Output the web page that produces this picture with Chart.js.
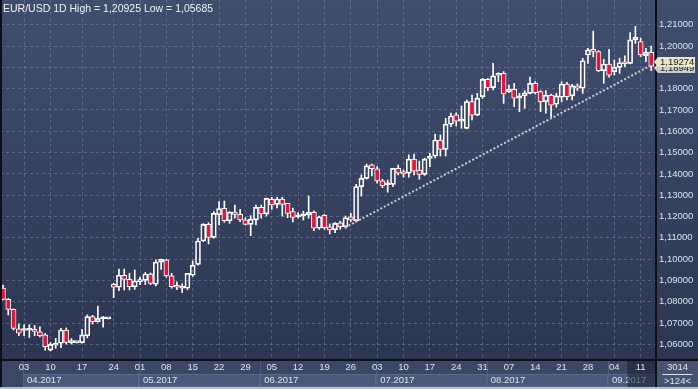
<!DOCTYPE html>
<html>
<head>
<meta charset="utf-8">
<script src="https://cdn.jsdelivr.net/npm/chart.js@4/dist/chart.umd.min.js"></script>
<style>
  html, body { margin: 0; padding: 0; background: #2f3a56; }
  #wrap { width: 698px; height: 389px; }
</style>
</head>
<body>
<div id="wrap"><canvas id="myChart" width="698" height="389"></canvas></div>
<script>
// daily EUR/USD candles, end of March to mid September 2017
const opens = [
  1.0864, 1.0811, 1.0764, 1.0673, 1.0665, 1.0666, 1.0671, 1.0659, 1.0644, 1.0573,
  1.0596, 1.0605, 1.0667, 1.0608, 1.0608, 1.0608, 1.0640, 1.0730, 1.0706, 1.0720,
  1.0720, 1.0882, 1.0868, 1.0924, 1.0905, 1.0870, 1.0894, 1.0900, 1.0930, 1.0882,
  1.0985, 1.0996, 1.0922, 1.0872, 1.0863, 1.0863, 1.0924, 1.0975, 1.1085, 1.1163,
  1.1102, 1.1209, 1.1238, 1.1180, 1.1221, 1.1210, 1.1184, 1.1163, 1.1184, 1.1243,
  1.1212, 1.1281, 1.1257, 1.1282, 1.1262, 1.1223, 1.1199, 1.1203, 1.1207, 1.1220,
  1.1145, 1.1206, 1.1152, 1.1137, 1.1170, 1.1152, 1.1199, 1.1180, 1.1340, 1.1379,
  1.1443, 1.1424, 1.1367, 1.1349, 1.1351, 1.1426, 1.1404, 1.1403, 1.1469, 1.1418,
  1.1398, 1.1473, 1.1484, 1.1559, 1.1515, 1.1633, 1.1677, 1.1648, 1.1614, 1.1739,
  1.1676, 1.1763, 1.1844, 1.1805, 1.1863, 1.1872, 1.1786, 1.1797, 1.1755, 1.1766,
  1.1778, 1.1825, 1.1786, 1.1739, 1.1770, 1.1727, 1.1760, 1.1822, 1.1766, 1.1813,
  1.1802, 1.1958, 1.1982, 1.1974, 1.1885, 1.1916, 1.1880, 1.1900, 1.1922, 1.1919,
  1.2029, 1.2021, 1.1955, 1.1971
];
const highs = [
  1.0878, 1.0815, 1.0766, 1.0695, 1.0692, 1.0692, 1.0689, 1.0682, 1.0652, 1.0608,
  1.0628, 1.0675, 1.0677, 1.0627, 1.0610, 1.0670, 1.0738, 1.0736, 1.0780, 1.0730,
  1.0721, 1.0886, 1.0953, 1.0953, 1.0933, 1.0949, 1.0915, 1.0937, 1.0935, 1.0996,
  1.1000, 1.0999, 1.0933, 1.0893, 1.0884, 1.0933, 1.0992, 1.1098, 1.1167, 1.1171,
  1.1223, 1.1270, 1.1273, 1.1223, 1.1254, 1.1234, 1.1194, 1.1204, 1.1254, 1.1254,
  1.1287, 1.1290, 1.1290, 1.1290, 1.1262, 1.1239, 1.1218, 1.1225, 1.1296, 1.1227,
  1.1202, 1.1210, 1.1165, 1.1171, 1.1178, 1.1202, 1.1215, 1.1351, 1.1395, 1.1446,
  1.1446, 1.1434, 1.1375, 1.1371, 1.1426, 1.1442, 1.1418, 1.1489, 1.1493, 1.1460,
  1.1474, 1.1497, 1.1587, 1.1583, 1.1661, 1.1685, 1.1687, 1.1719, 1.1747, 1.1770,
  1.1778, 1.1849, 1.1849, 1.1919, 1.1875, 1.1880, 1.1817, 1.1825, 1.1778, 1.1791,
  1.1854, 1.1833, 1.1791, 1.1791, 1.1775, 1.1778, 1.1833, 1.1830, 1.1821, 1.1822,
  1.1943, 1.1990, 1.2070, 1.1978, 1.1938, 1.1985, 1.1935, 1.1943, 1.1954, 1.2063,
  1.20925, 1.2037, 1.1990, 1.2000
];
const lows = [
  1.0808, 1.0738, 1.0667, 1.0640, 1.0640, 1.0632, 1.0640, 1.0635, 1.0573, 1.05685,
  1.0581, 1.0584, 1.0601, 1.0601, 1.0606, 1.0605, 1.0630, 1.0695, 1.0704, 1.0680,
  1.0719, 1.0819, 1.0852, 1.0855, 1.0855, 1.0858, 1.0880, 1.0880, 1.0880, 1.0874,
  1.0952, 1.0915, 1.0863, 1.0856, 1.0843, 1.0856, 1.0919, 1.0972, 1.1082, 1.1071,
  1.1098, 1.1160, 1.1173, 1.1168, 1.1192, 1.1176, 1.1160, 1.1110, 1.1160, 1.1192,
  1.1202, 1.1234, 1.1240, 1.1202, 1.1194, 1.1174, 1.1192, 1.1183, 1.1192, 1.1133,
  1.1140, 1.1140, 1.1118, 1.1124, 1.1140, 1.1145, 1.1176, 1.1175, 1.1296, 1.1375,
  1.1390, 1.1356, 1.1335, 1.1314, 1.1340, 1.1395, 1.1384, 1.1384, 1.1395, 1.1375,
  1.1393, 1.1434, 1.1475, 1.1484, 1.1484, 1.1622, 1.1625, 1.1614, 1.1611, 1.1653,
  1.1673, 1.1755, 1.1791, 1.1794, 1.1833, 1.1731, 1.1781, 1.1716, 1.1692, 1.1708,
  1.1775, 1.1775, 1.1692, 1.1685, 1.1666, 1.1713, 1.1739, 1.1747, 1.1747, 1.1791,
  1.1778, 1.1919, 1.1950, 1.1880, 1.1825, 1.1854, 1.1864, 1.1872, 1.1903, 1.1916,
  1.2013, 1.1950, 1.1927, 1.1885
];
const closes = [
  1.0811, 1.0764, 1.0675, 1.0652, 1.0670, 1.0670, 1.0661, 1.0640, 1.0589, 1.0600,
  1.0603, 1.0667, 1.0609, 1.0614, 1.0608, 1.0644, 1.0730, 1.0706, 1.0722, 1.0723,
  1.0720, 1.0868, 1.0924, 1.0905, 1.0870, 1.0897, 1.0903, 1.0930, 1.0886, 1.0985,
  1.0999, 1.0922, 1.0870, 1.0868, 1.0868, 1.0933, 1.0972, 1.1085, 1.1163, 1.1102,
  1.1215, 1.1237, 1.1180, 1.1220, 1.1210, 1.1184, 1.1163, 1.1188, 1.1243, 1.1212,
  1.1285, 1.1254, 1.1282, 1.1257, 1.1215, 1.1196, 1.1205, 1.1208, 1.1220, 1.1145,
  1.1199, 1.1147, 1.1137, 1.1168, 1.1152, 1.1194, 1.1184, 1.1340, 1.1379, 1.1438,
  1.1424, 1.1367, 1.1345, 1.1351, 1.1426, 1.1403, 1.1400, 1.1469, 1.1413, 1.1398,
  1.1469, 1.1484, 1.1559, 1.1515, 1.1633, 1.1672, 1.1648, 1.1651, 1.1739, 1.1676,
  1.1755, 1.1844, 1.1805, 1.1860, 1.1872, 1.1775, 1.1797, 1.1755, 1.1766, 1.1781,
  1.1825, 1.1781, 1.1739, 1.1770, 1.1723, 1.1766, 1.1822, 1.1762, 1.1813, 1.1802,
  1.1931, 1.1982, 1.1975, 1.1885, 1.1916, 1.1864, 1.1900, 1.1922, 1.1917, 1.2029,
  1.2041, 1.1958, 1.1971, 1.1905
];

// bar index of each weekly tick and the day shown there
const weekTicks = [4, 9, 15, 21, 26, 31, 36, 41, 46, 51, 56, 61, 66, 71, 76, 81, 86, 91, 96, 101, 106, 111, 116, 121];
const weekLabels = ["03", "10", "17", "24", "01", "08", "15", "22", "29", "05", "12", "19",
                    "26", "03", "10", "17", "24", "31", "07", "14", "21", "28", "04", "11"];
const monthStarts = [4, 26, 49, 71, 92, 115];
const monthLabels = ["04.2017", "05.2017", "06.2017", "07.2017", "08.2017", "09.2017"];
const priceTicks = [1.06, 1.07, 1.08, 1.09, 1.10, 1.11, 1.12, 1.13, 1.14, 1.15, 1.16, 1.17, 1.18, 1.19, 1.20, 1.21];

// support line drawn under the summer lows
const trendIdx = [64.9, 123.3];
const trendPrice = [1.1148, 1.1914];

const titleText = "EUR/USD 1D High = 1,20925 Low = 1,05685";
const lastPrice = "1,19274";
const linePrice = "1,18949";
const periodNo = "3014";
const barCount = ">124<";

const RED = "#e3163a";
const FONT = "'Liberation Sans', Arial, sans-serif";
const AXIS_SIZE = 9.5;

const fmt = (v) => v.toFixed(5).replace(".", ",");

const upperWick = opens.map((o, i) => ({ x: i, y: [Math.max(o, closes[i]), highs[i]] }));
const lowerWick = opens.map((o, i) => ({ x: i, y: [lows[i], Math.min(o, closes[i])] }));
const bodies = opens.map((o, i) => ({ x: i, y: [o, closes[i]] }));
const bodyColors = opens.map((o, i) => (closes[i] < o ? RED : "rgba(0,0,0,0)"));

const frame = {
  id: "frame",
  beforeDraw(chart) {
    const ctx = chart.ctx;
    const W = chart.width, H = chart.height;
    const x = chart.scales.x;
    const bottom = chart.chartArea.bottom;
    const right = chart.chartArea.right;
    ctx.save();
    const g = ctx.createLinearGradient(0, 0, 0, bottom);
    g.addColorStop(0, "#404e6e");
    g.addColorStop(1, "#2c3652");
    ctx.fillStyle = g;
    ctx.fillRect(0, 0, W, H);

    // date strip
    ctx.fillStyle = "#3a4765";
    ctx.fillRect(0, bottom, right, H - bottom);
    const rowY = bottom + 14;
    monthStarts.forEach((m, k) => {
      const x0 = x.getPixelForValue(m) - 1;
      const x1 = k < monthStarts.length - 1 ? x.getPixelForValue(monthStarts[k + 1]) - 1 : right;
      ctx.fillStyle = "#4a5879";
      ctx.fillRect(x0, rowY, x1 - x0, H - rowY - 2);
      ctx.strokeStyle = "#5b698a";
      ctx.lineWidth = 1;
      ctx.strokeRect(x0 + 0.5, rowY + 0.5, x1 - x0 - 1, H - rowY - 3);
      ctx.fillStyle = "#56637f";
      ctx.fillRect(x0, bottom, 1, H - bottom);
      ctx.fillStyle = "#dbe4ef";
      ctx.font = AXIS_SIZE + "px " + FONT;
      ctx.textBaseline = "middle";
      ctx.fillText(monthLabels[k], x0 + 4, rowY + 6);
    });
    // current week highlight
    ctx.fillStyle = "rgba(24,30,48,0.55)";
    ctx.fillRect(x.getPixelForValue(118.5), bottom, right - x.getPixelForValue(118.5), H - bottom - 2);
    ctx.restore();
  },
  afterDraw(chart) {
    const ctx = chart.ctx;
    const W = chart.width, H = chart.height;
    const bottom = chart.chartArea.bottom;
    const right = chart.chartArea.right;
    ctx.save();
    // bars-count box
    ctx.fillStyle = "#46546f";
    ctx.fillRect(right, bottom, W - right, H - bottom);
    ctx.fillStyle = "#dbe4ef";
    ctx.font = AXIS_SIZE + "px " + FONT;
    ctx.textAlign = "center";
    ctx.textBaseline = "middle";
    const cx = (right + W) / 2 + 1;
    ctx.fillText(periodNo, cx, bottom + 7);
    ctx.fillRect(cx - 15, bottom + 14, 30, 1);
    ctx.fillText(barCount, cx, bottom + 21);

    // frame lines
    ctx.fillStyle = "#0d1018";
    ctx.fillRect(0, bottom - 1, W, 2);
    ctx.fillRect(right, 0, 2, H);
    ctx.fillRect(0, 0, 2, H);
    ctx.fillStyle = "#b9bdc6";
    ctx.fillRect(0, H - 2, W, 2);

    // title
    ctx.textAlign = "left";
    ctx.fillStyle = "#eef2f8";
    ctx.font = "10.5px " + FONT;
    ctx.fillText(titleText, 3, 9);

    // price tags on the axis
    const y = chart.scales.y;
    ctx.font = AXIS_SIZE + "px " + FONT;
    const tag = (price, text, bg) => {
      const py = Math.round(y.getPixelForValue(price));
      ctx.fillStyle = bg;
      ctx.beginPath();
      ctx.moveTo(right - 1, py);
      ctx.lineTo(right + 3, py - 5);
      ctx.lineTo(W - 3, py - 5);
      ctx.lineTo(W - 3, py + 5);
      ctx.lineTo(right + 3, py + 5);
      ctx.closePath();
      ctx.fill();
      ctx.fillStyle = "#1b1d22";
      ctx.fillText(text, right + 5, py + 0.5);
    };
    tag(1.18949, linePrice, "#c9ccd2");
    tag(1.19274, lastPrice, "#e9e5c7");
    ctx.restore();
  },
};

new Chart(document.getElementById("myChart"), {
  type: "bar",
  plugins: [frame],
  data: {
    datasets: [
      {
        type: "line",
        data: trendIdx.map((v, i) => ({ x: v, y: trendPrice[i] })),
        borderColor: "#c9ccd4",
        borderWidth: 2,
        borderDash: [2, 2],
        pointRadius: 0,
        fill: false,
        order: 1,
      },
      {
        data: bodies,
        backgroundColor: bodyColors,
        borderColor: "#ffffff",
        borderWidth: 1,
        borderSkipped: false,
        barThickness: 5,
        minBarLength: 2,
        grouped: false,
        order: 2,
      },
      {
        data: upperWick,
        backgroundColor: "#ffffff",
        borderWidth: 0,
        barThickness: 1,
        grouped: false,
        order: 3,
      },
      {
        data: lowerWick,
        backgroundColor: "#ffffff",
        borderWidth: 0,
        barThickness: 1,
        grouped: false,
        order: 3,
      },
    ],
  },
  options: {
    responsive: false,
    animation: false,
    devicePixelRatio: 1,
    layout: { padding: 0 },
    plugins: {
      legend: { display: false },
      tooltip: { enabled: false },
    },
    scales: {
      x: {
        type: "linear",
        position: "bottom",
        min: -0.57,
        max: 123.72,
        offset: false,
        afterBuildTicks: (scale) => {
          scale.ticks = weekTicks.map((v) => ({ value: v }));
        },
        afterFit: (scale) => {
          scale.height = 29;
          scale.paddingLeft = 0;
          scale.paddingRight = 0;
        },
        ticks: {
          autoSkip: false,
          maxRotation: 0,
          minRotation: 0,
          padding: 2,
          color: "#dbe4ef",
          font: { family: FONT, size: AXIS_SIZE },
          callback: (v) => weekLabels[weekTicks.indexOf(v)],
        },
        grid: {
          offset: false,
          color: "rgba(112,128,162,0.6)",
          drawTicks: false,
        },
        border: { display: false, dash: [3, 3] },
      },
      y: {
        type: "linear",
        position: "right",
        min: 1.05263,
        max: 1.22164,
        afterBuildTicks: (scale) => {
          scale.ticks = priceTicks.map((v) => ({ value: v }));
        },
        afterFit: (scale) => {
          scale.width = 43;
          scale.paddingTop = 0;
          scale.paddingBottom = 0;
        },
        ticks: {
          padding: 4,
          color: "#d6e2f0",
          font: { family: FONT, size: AXIS_SIZE },
          callback: (v) => fmt(v),
        },
        grid: {
          color: "rgba(112,128,162,0.6)",
          drawTicks: false,
        },
        border: { display: false, dash: [3, 3] },
      },
    },
  },
});
</script>
</body>
</html>
